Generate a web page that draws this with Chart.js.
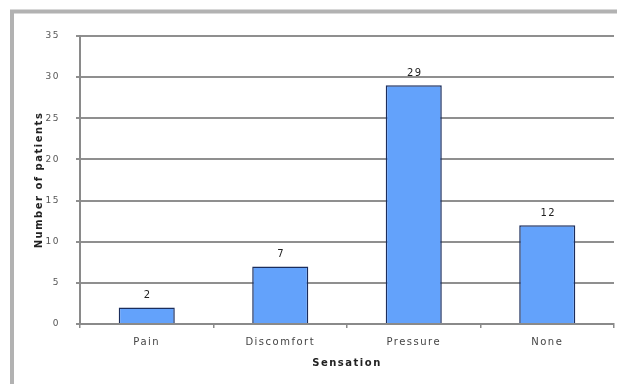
<!DOCTYPE html>
<html>
<head>
<meta charset="utf-8">
<script src="https://cdn.jsdelivr.net/npm/chart.js@4/dist/chart.umd.min.js"></script>
<style>
  html, body { margin: 0; padding: 0; background: #fff; }
  #wrap { position: relative; width: 617px; height: 384px; }
</style>
</head>
<body>
<div id="wrap"><canvas id="c" width="617" height="384"></canvas></div>
<script>
// Patient-reported sensation counts
const sensations = ['Pain', 'Discomfort', 'Pressure', 'None'];
const patients = [2, 7, 29, 12];
const yTicks = [0, 5, 10, 15, 20, 25, 30, 35];

const FONT = 'DejaVu Sans';
const SPACING = '1.5px';

// White page with the grey frame along the top and left
const framePlugin = {
  id: 'frame',
  beforeDraw(chart) {
    const ctx = chart.ctx;
    ctx.save();
    ctx.fillStyle = '#ffffff';
    ctx.fillRect(0, 0, chart.width, chart.height);
    ctx.strokeStyle = '#b2b2b2';
    ctx.lineWidth = 4;
    ctx.beginPath();
    ctx.moveTo(10, 11.5);
    ctx.lineTo(chart.width, 11.5);
    ctx.moveTo(12, 10);
    ctx.lineTo(12, chart.height);
    ctx.stroke();
    ctx.restore();
    ctx.letterSpacing = SPACING;
  }
};

// Value printed above each bar
const valueLabels = {
  id: 'valueLabels',
  afterDatasetsDraw(chart) {
    const ctx = chart.ctx;
    const meta = chart.getDatasetMeta(0);
    ctx.save();
    ctx.letterSpacing = SPACING;
    ctx.font = '10px "' + FONT + '"';
    ctx.fillStyle = '#222';
    ctx.textAlign = 'center';
    ctx.textBaseline = 'middle';
    meta.data.forEach((bar, i) => {
      ctx.fillText(String(patients[i]), bar.x + 1, bar.y - 12);
    });
    ctx.restore();
  }
};

new Chart(document.getElementById('c'), {
  type: 'bar',
  data: {
    labels: sensations,
    datasets: [{
      data: patients,
      backgroundColor: '#63a2fb',
      borderColor: '#1b2d5c',
      borderWidth: 1.5,
      barPercentage: 0.42,
      categoryPercentage: 1.0
    }]
  },
  options: {
    responsive: false,
    animation: false,
    devicePixelRatio: 1,
    layout: { padding: { top: 36, right: 3, bottom: 0, left: 0 } },
    plugins: { legend: { display: false }, tooltip: { enabled: false } },
    scales: {
      x: {
        grid: { display: true, drawOnChartArea: false, drawTicks: true, tickLength: 4, color: '#8a8a8a', lineWidth: 1.5 },
        border: { display: true, color: '#8a8a8a', width: 2 },
        ticks: { color: '#444', font: { family: FONT, size: 10 }, padding: 8, maxRotation: 0 },
        title: { display: true, text: 'Sensation', color: '#222', font: { family: FONT, size: 10, weight: 'bold' }, padding: { top: 4, bottom: 15 } },
        afterFit(scale) { scale.height = 60; }
      },
      y: {
        min: 0, max: 35,
        afterBuildTicks(scale) { scale.ticks = yTicks.map(v => ({ value: v })); },
        grid: { color: '#8f8f8f', lineWidth: 2, tickLength: 4, drawTicks: true },
        border: { display: true, color: '#8a8a8a', width: 2 },
        ticks: { color: '#555', font: { family: FONT, size: 9 }, padding: 16 },
        title: { display: true, text: 'Number of patients', color: '#222', font: { family: FONT, size: 10, weight: 'bold' }, padding: { top: 33, bottom: 0 } },
        afterFit(scale) { scale.width = 80; }
      }
    }
  },
  plugins: [framePlugin, valueLabels]
});
</script>
</body>
</html>
